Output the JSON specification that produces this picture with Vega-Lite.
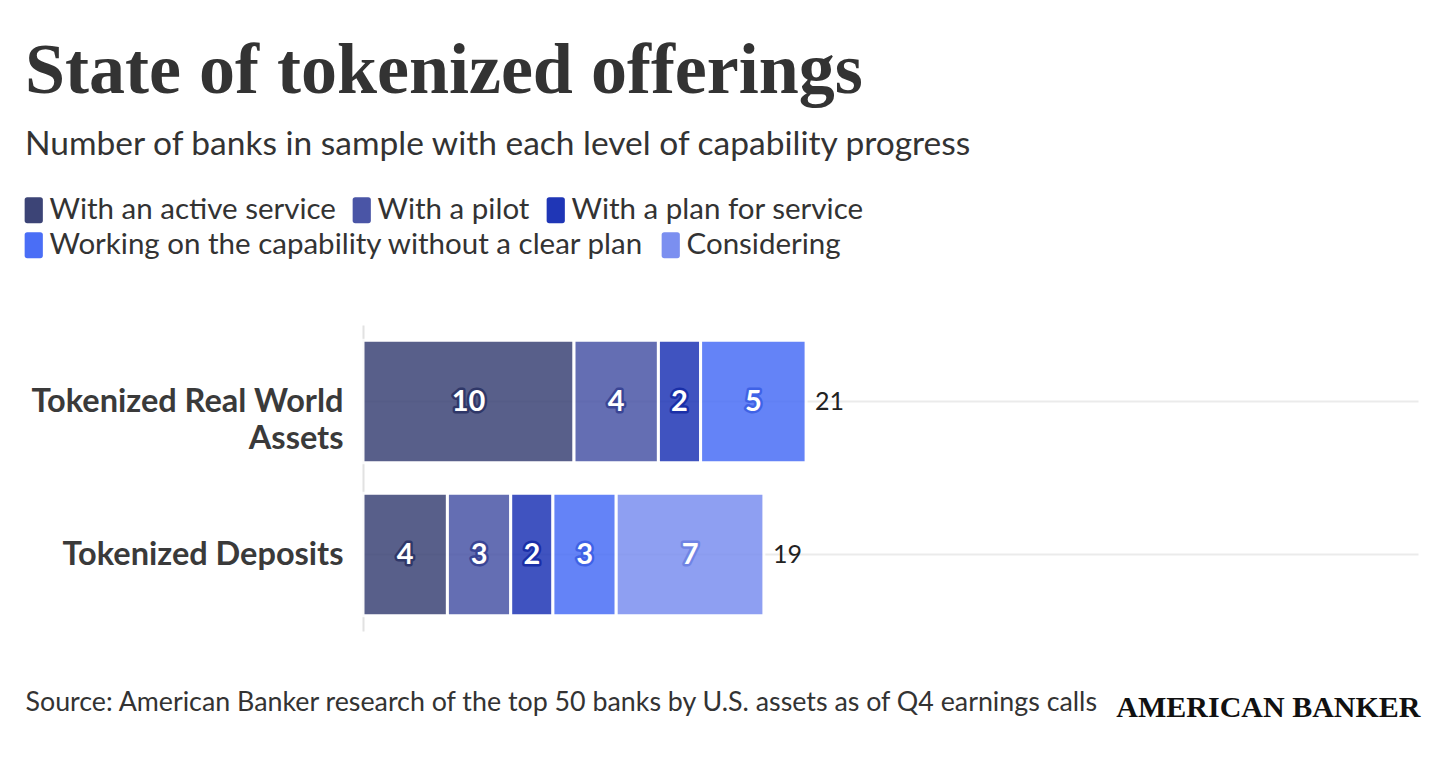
{
  "$schema": "https://vega.github.io/schema/vega-lite/v6.json",
  "width": 1055,
  "height": 306,
  "autosize": {"type": "none"},
  "padding": {"left": 363, "top": 325, "right": 38, "bottom": 126},
  "background": "white",
  "config": {"view": {"stroke": null}},
  "title": {
    "text": "State of tokenized offerings",
    "subtitle": "Number of banks in sample with each level of capability progress",
    "anchor": "start",
    "frame": "group",
    "dx": -338,
    "offset": 33,
    "font": "Liberation Serif",
    "fontSize": 72,
    "fontWeight": "bold",
    "color": "#333333",
    "subtitleFont": "Lato",
    "subtitleFontSize": 33.5,
    "subtitleColor": "#333333",
    "subtitlePadding": 21
  },
  "data": {
    "values": [
      {"category": "Tokenized Real World Assets", "series": "With an active service", "rank": 1, "count": 10},
      {"category": "Tokenized Real World Assets", "series": "With a pilot", "rank": 2, "count": 4},
      {"category": "Tokenized Real World Assets", "series": "With a plan for service", "rank": 3, "count": 2},
      {"category": "Tokenized Real World Assets", "series": "Working on the capability without a clear plan", "rank": 4, "count": 5},
      {"category": "Tokenized Deposits", "series": "With an active service", "rank": 1, "count": 4},
      {"category": "Tokenized Deposits", "series": "With a pilot", "rank": 2, "count": 3},
      {"category": "Tokenized Deposits", "series": "With a plan for service", "rank": 3, "count": 2},
      {"category": "Tokenized Deposits", "series": "Working on the capability without a clear plan", "rank": 4, "count": 3},
      {"category": "Tokenized Deposits", "series": "Considering", "rank": 5, "count": 7}
    ]
  },
  "resolve": {"axis": {"y": "independent"}},
  "layer": [
    {
      "mark": {"type": "bar", "opacity": 0.85, "stroke": "white", "strokeWidth": 3},
      "encoding": {
        "x": {
          "field": "count", "type": "quantitative", "stack": "zero",
          "scale": {"domain": [0, 50], "nice": false},
          "axis": {
            "labels": false, "ticks": false, "domain": false, "grid": false,
            "title": "Source: American Banker research of the top 50 banks by U.S. assets as of Q4 earnings calls",
            "titleFont": "Lato", "titleFontSize": 26.8, "titleFontWeight": "normal", "titleColor": "#333333",
            "titleAnchor": "start", "titleAlign": "left", "titleBaseline": "alphabetic",
            "titleX": -338, "titleY": 79, "titleLimit": 1200
          }
        },
        "y": {
          "field": "category", "type": "nominal",
          "sort": ["Tokenized Real World Assets", "Tokenized Deposits"],
          "scale": {"paddingInner": 0.2, "paddingOuter": 0.1},
          "axis": {
            "title": null,
            "labelFont": "Lato", "labelFontSize": 32.5, "labelFontWeight": "bold", "labelColor": "#3a3a3a",
            "labelPadding": 20, "labelLineHeight": 37, "labelLimit": 500,
            "labelExpr": "datum.value == 'Tokenized Real World Assets' ? ['Tokenized Real World', 'Assets'] : datum.value",
            "ticks": false, "domain": true, "domainColor": "#e2e2e2", "domainWidth": 2,
            "grid": true, "gridColor": "#ebebeb", "gridWidth": 2, "bandPosition": 0.5
          }
        },
        "color": {
          "field": "series", "type": "nominal",
          "scale": {
            "domain": ["With an active service", "With a pilot", "With a plan for service", "Working on the capability without a clear plan", "Considering"],
            "range": ["#3c4476", "#4a55a6", "#1f36b6", "#4a6ef6", "#7b8ff0"]
          },
          "legend": {
            "orient": "none", "legendX": -344, "legendY": -130,
            "direction": "horizontal",
            "values": ["With an active service", "With a pilot", "With a plan for service"],
            "title": null,
            "labelFont": "Lato", "labelFontSize": 29.5, "labelColor": "#333333", "labelLimit": 1000, "labelOffset": 1,
            "symbolType": "M-0.5,-1H0.5Q0.7,-1 0.7,-0.8V0.8Q0.7,1 0.5,1H-0.5Q-0.7,1 -0.7,0.8V-0.8Q-0.7,-1 -0.5,-1Z",
            "symbolSize": 676, "symbolOpacity": 1, "symbolStrokeWidth": 0,
            "columnPadding": 11
          }
        },
        "order": {"field": "rank", "type": "quantitative"}
      }
    },
    {
      "transform": [
        {"stack": "count", "groupby": ["category"], "sort": [{"field": "rank"}], "as": ["x0", "x1"]},
        {"calculate": "(datum.x0 + datum.x1) / 2", "as": "mid"}
      ],
      "mark": {"type": "text", "font": "Lato", "fontSize": 29, "fontWeight": "bold", "strokeWidth": 5, "strokeJoin": "round"},
      "encoding": {
        "x": {"field": "mid", "type": "quantitative"},
        "y": {"field": "category", "type": "nominal", "sort": ["Tokenized Real World Assets", "Tokenized Deposits"], "axis": null},
        "text": {"field": "count", "type": "quantitative"},
        "stroke": {
          "field": "series", "type": "nominal", "legend": null,
          "scale": {
            "domain": ["With an active service", "With a pilot", "With a plan for service", "Working on the capability without a clear plan", "Considering"],
            "range": ["#2f3768", "#3a4595", "#1a2fa8", "#3f62e6", "#7084e4"]
          }
        },
        "fill": {
          "field": "series", "type": "nominal",
          "scale": {
            "domain": ["Working on the capability without a clear plan", "Considering"],
            "range": ["#4a6ef6", "#7b8ff0"]
          },
          "legend": {
            "orient": "none", "legendX": -344, "legendY": -95,
            "direction": "horizontal",
            "title": null,
            "labelFont": "Lato", "labelFontSize": 29.5, "labelColor": "#333333", "labelLimit": 1000, "labelOffset": 1,
            "symbolType": "M-0.5,-1H0.5Q0.7,-1 0.7,-0.8V0.8Q0.7,1 0.5,1H-0.5Q-0.7,1 -0.7,0.8V-0.8Q-0.7,-1 -0.5,-1Z",
            "symbolSize": 676, "symbolOpacity": 1, "symbolStrokeWidth": 0,
            "columnPadding": 11
          }
        }
      }
    },
    {
      "transform": [
        {"stack": "count", "groupby": ["category"], "sort": [{"field": "rank"}], "as": ["x0", "x1"]},
        {"calculate": "(datum.x0 + datum.x1) / 2", "as": "mid"}
      ],
      "mark": {"type": "text", "font": "Lato", "fontSize": 29, "fontWeight": "bold", "fill": "white"},
      "encoding": {
        "x": {"field": "mid", "type": "quantitative"},
        "y": {"field": "category", "type": "nominal", "sort": ["Tokenized Real World Assets", "Tokenized Deposits"], "axis": null},
        "text": {"field": "count", "type": "quantitative"}
      }
    },
    {
      "transform": [
        {"aggregate": [{"op": "sum", "field": "count", "as": "total"}], "groupby": ["category"]}
      ],
      "mark": {"type": "text", "font": "Lato", "fontSize": 25, "color": "#222222", "align": "left", "dx": 9},
      "encoding": {
        "x": {"field": "total", "type": "quantitative"},
        "y": {
          "field": "category", "type": "nominal", "sort": ["Tokenized Real World Assets", "Tokenized Deposits"],
          "axis": {
            "orient": "right", "labels": false, "ticks": false, "domain": false, "grid": false,
            "title": "AMERICAN BANKER", "titleAngle": 0, "titleAlign": "right", "titleBaseline": "alphabetic",
            "titleX": 2, "titleY": 391,
            "titleFont": "Liberation Serif", "titleFontSize": 30, "titleFontWeight": "bold", "titleColor": "#111111"
          }
        },
        "text": {"field": "total", "type": "quantitative"}
      }
    }
  ]
}
